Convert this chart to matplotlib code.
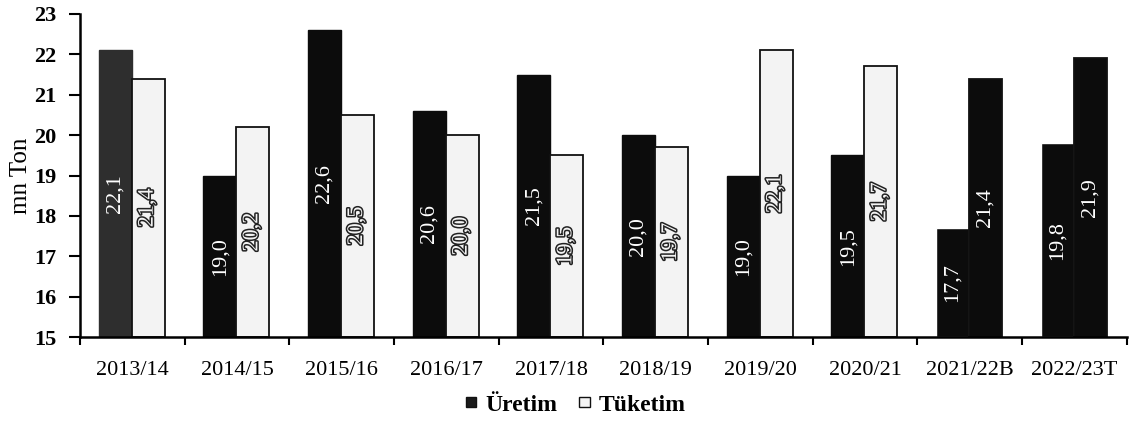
import matplotlib
matplotlib.use("Agg")
import matplotlib.pyplot as plt
import matplotlib.patheffects as pe
from matplotlib.patches import Patch
import numpy as np

plt.rcParams['font.family'] = ['Liberation Serif', 'DejaVu Serif']

seasons = ['2013/14', '2014/15', '2015/16', '2016/17', '2017/18',
           '2018/19', '2019/20', '2020/21', '2021/22B', '2022/23T']
uretim = [22.1, 19.0, 22.6, 20.6, 21.5, 20.0, 19.0, 19.5, 17.7, 19.8]
tuketim = [21.4, 20.2, 20.5, 20.0, 19.5, 19.7, 22.1, 21.7, 21.4, 21.9]

# the last two seasons (estimate / forecast) are printed with both bars dark
dark_tuketim = [False] * 8 + [True, True]

y_min, y_max = 15, 23


def fmt(v):
    return f"{v:.1f}".replace('.', ',')


fig = plt.figure(figsize=(11.29, 4.23), dpi=100)
ax = fig.add_axes([0.071, 0.203, 0.927, 0.764])

x = np.arange(len(seasons))
w = 0.315
x_ur = x - 0.165
x_tu = x + 0.15

ur_colors = ['#2e2e2e'] + ['#0c0c0c'] * 9
ur_edges = ['#2e2e2e'] + ['#0c0c0c'] * 7 + ['white', 'white']
ax.bar(x_ur, np.array(uretim) - y_min, w, bottom=y_min,
       color=ur_colors, edgecolor=ur_edges, linewidth=1.0, zorder=2)

tu_colors = ['#0c0c0c' if d else '#f3f3f3' for d in dark_tuketim]
ax.bar(x_tu, np.array(tuketim) - y_min, w, bottom=y_min,
       color=tu_colors, edgecolor='#111111', linewidth=1.3, zorder=2)

# value labels, rotated and centred inside each bar
outline = [pe.withStroke(linewidth=2.2, foreground='#222222')]
for xi, v in zip(x_ur, uretim):
    ax.text(xi, (y_min + v) / 2, fmt(v), rotation=90, ha='center',
            va='center', color='white', fontsize=16, zorder=3)
for xi, v, d in zip(x_tu, tuketim, dark_tuketim):
    if d:
        ax.text(xi, (y_min + v) / 2, fmt(v), rotation=90, ha='center',
                va='center', color='white', fontsize=16, zorder=3)
    else:
        ax.text(xi, (y_min + v) / 2, fmt(v), rotation=90, ha='center',
                va='center', color='#f3f3f3', fontsize=16, zorder=3,
                path_effects=outline)

ax.set_xlim(-0.5, len(seasons) - 0.5)
ax.set_ylim(y_min, y_max)
ax.set_yticks(range(y_min, y_max + 1))
ax.tick_params(axis='y', labelsize=16, width=1.5, length=8, pad=9)
for lbl in ax.get_yticklabels():
    lbl.set_fontweight('bold')

ax.set_xticks(x)
ax.set_xticklabels(seasons, fontsize=16)
ax.tick_params(axis='x', length=0, pad=17)
ax.set_xticks(np.arange(len(seasons) + 1) - 0.5, minor=True)
ax.tick_params(axis='x', which='minor', length=6, width=1.5, direction='out')

ax.set_ylabel('mn Ton', fontsize=18, labelpad=2)

for side in ['top', 'right']:
    ax.spines[side].set_visible(False)
for side in ['left', 'bottom']:
    ax.spines[side].set_linewidth(1.8)

handles = [Patch(facecolor='#1a1a1a', edgecolor='#111111', label='Üretim'),
           Patch(facecolor='#f3f3f3', edgecolor='#111111', label='Tüketim')]
fig.legend(handles=handles, loc='center', bbox_to_anchor=(0.51, 0.042),
           ncol=2, frameon=False, handlelength=0.45, handleheight=0.25,
           handletextpad=0.4, columnspacing=0.9,
           prop={'weight': 'bold', 'size': 17})

fig.savefig('out.png', dpi=100)
